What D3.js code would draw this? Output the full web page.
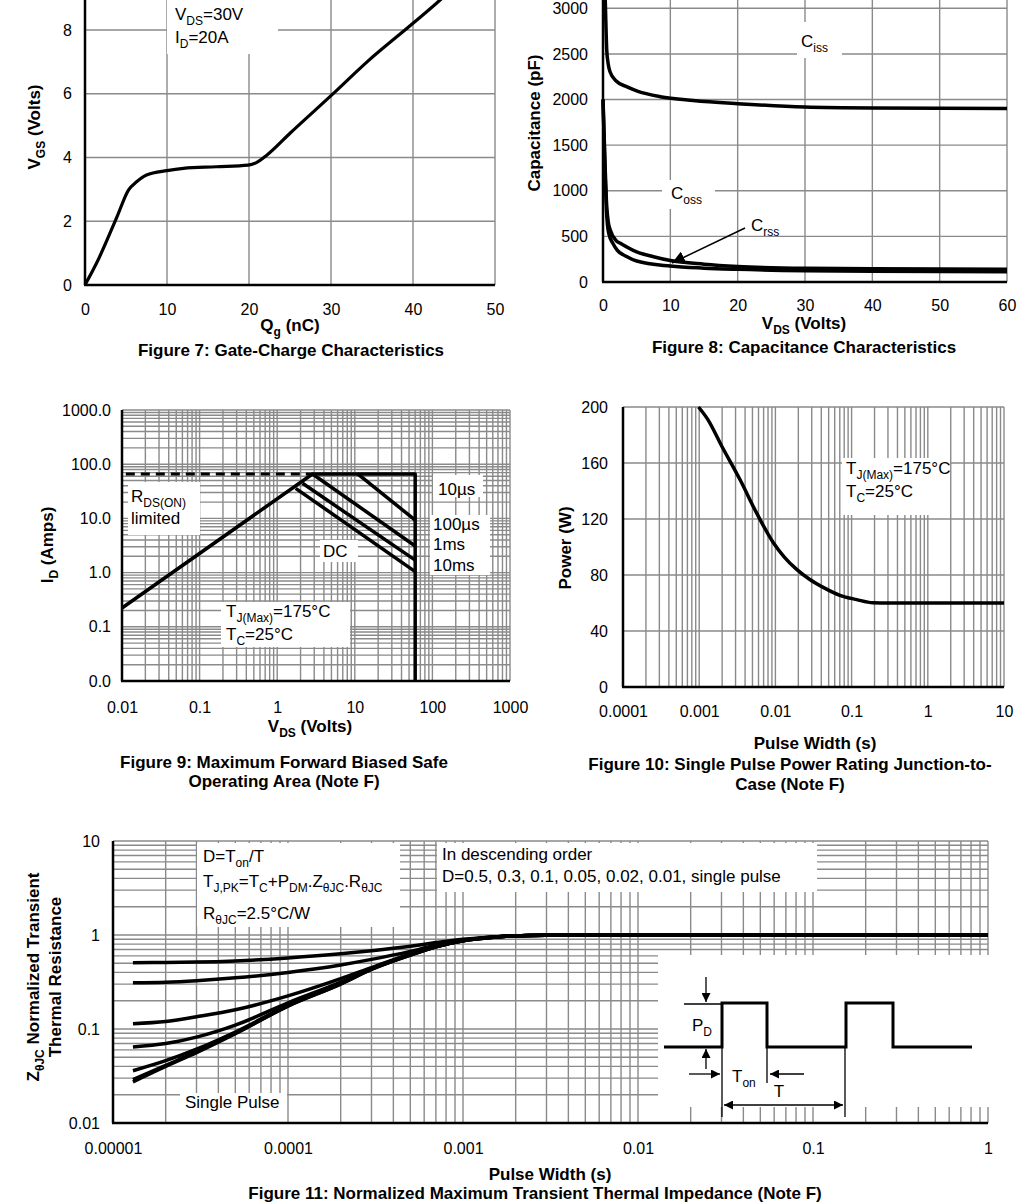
<!DOCTYPE html>
<html><head><meta charset="utf-8">
<script src="https://cdn.jsdelivr.net/npm/d3@7"></script>
<style>body{margin:0;background:#fff} text{font-family:"Liberation Sans",Arial,sans-serif;fill:#000}</style>
</head><body><svg id="c" width="1033" height="1202"></svg>
<script>
// ---------------- DATA ----------------
// Figure 7: gate charge
const gcQ = [0, 1.4, 3.9, 5.3, 6.3, 7.5, 10, 12, 16, 19.9, 20.9, 22.2, 25, 30.3, 34.4, 40, 43.3, 45];
const gcV = [0, 0.68, 2.14, 2.98, 3.24, 3.45, 3.59, 3.66, 3.71, 3.76, 3.84, 4.08, 4.76, 6.01, 7.0, 8.21, 8.94, 9.35];
const gcXTicks = [0, 10, 20, 30, 40, 50];
const gcYTicks = [0, 2, 4, 6, 8, 10];
// Figure 8: capacitance
const capV = [0.05, 0.35, 0.55, 0.75, 1.04, 2, 3.5, 5, 8.5, 13.4, 20, 30, 40, 60];
const cissPF = [3800, 3050, 2550, 2400, 2305, 2200, 2141, 2095, 2031, 1990, 1955, 1918, 1908, 1903];
const cossV = [0, 0.3, 0.5, 0.8, 1.08, 2, 2.57, 5, 7.5, 10, 15, 20, 30, 40, 60];
const cossPF = [2000, 1300, 900, 650, 570, 450, 424, 330, 277, 235, 195, 170, 150, 145, 140];
const crssV = [0, 0.3, 0.5, 0.84, 1.5, 2.1, 3.5, 5, 10, 15, 20, 30, 40, 60];
const crssPF = [2000, 1200, 800, 535, 420, 350, 280, 230, 175, 152, 139, 124, 118, 113];
const capXTicks = [0, 10, 20, 30, 40, 50, 60];
const capYTicks = [0, 500, 1000, 1500, 2000, 2500, 3000, 3500];
// Figure 9: SOA
const soaTicks = [0.01, 0.1, 1, 10, 100, 1000];
const soaLimitV = [0.0112, 2.85];           // RDS(ON) limited (dashed)
const soaLimitI = [66, 66];
const soaBoundV = [0.01, 2.85, 60, 60];      // outline
const soaBoundI = [0.222, 66, 66, 0.01];
const soa10usV = [10.9, 60],  soa10usI = [66, 9.3];
const soa100usV = [2.85, 60], soa100usI = [66, 3.1];
const soa1msV = [2.12, 60],   soa1msI = [44.4, 1.7];
const soaDCV = [1.73, 60],    soaDCI = [35.9, 1.04];
// Figure 10: single pulse power
const spT = [0.00098, 0.0013, 0.00198, 0.00344, 0.0057, 0.0094, 0.013, 0.019, 0.028, 0.043, 0.07, 0.117, 0.19, 0.3, 1, 10];
const spP = [200, 191, 172, 148, 124, 103, 93, 84, 77, 71, 65.5, 62.4, 60.2, 60, 60, 60];
const spXTicks = [0.0001, 0.001, 0.01, 0.1, 1, 10];
const spYTicks = [0, 40, 80, 120, 160, 200];
// Figure 11: transient thermal impedance
const ztT = [1.3e-5, 2e-5, 3e-5, 5e-5, 1e-4, 2e-4, 3e-4, 5e-4, 7e-4, 1e-3, 1.5e-3, 2e-3, 3e-3, 5e-3, 1e-2, 1e-1, 1];
const ztD05 = [0.508, 0.51, 0.515, 0.53, 0.57, 0.63, 0.68, 0.76, 0.83, 0.9, 0.955, 0.98, 0.995, 1, 1, 1, 1];
const ztD03 = [0.31, 0.315, 0.327, 0.35, 0.40, 0.48, 0.55, 0.67, 0.78, 0.88, 0.95, 0.98, 0.995, 1, 1, 1, 1];
const ztD01 = [0.114, 0.12, 0.135, 0.16, 0.225, 0.343, 0.45, 0.63, 0.76, 0.875, 0.95, 0.98, 0.995, 1, 1, 1, 1];
const ztD005 = [0.0645, 0.07, 0.082, 0.11, 0.19, 0.315, 0.44, 0.62, 0.755, 0.87, 0.948, 0.98, 0.995, 1, 1, 1, 1];
const ztD002 = [0.036, 0.046, 0.061, 0.093, 0.178, 0.305, 0.435, 0.615, 0.75, 0.87, 0.947, 0.98, 0.995, 1, 1, 1, 1];
const ztD001 = [0.029, 0.041, 0.057, 0.09, 0.176, 0.302, 0.432, 0.612, 0.75, 0.868, 0.946, 0.98, 0.995, 1, 1, 1, 1];
const ztSingle = [0.0274, 0.040, 0.056, 0.089, 0.175, 0.30, 0.43, 0.61, 0.75, 0.868, 0.946, 0.98, 0.995, 1, 1, 1, 1];
const ztXTicks = [0.00001, 0.0001, 0.001, 0.01, 0.1, 1];
const ztYTicks = [0.01, 0.1, 1, 10];

// ---------------- HELPERS ----------------
const GRID = '#8a8a8a';
const svg = d3.select('#c');
svg.append('rect').attr('width', 1033).attr('height', 1202).attr('fill', '#fff');
const defs = svg.append('defs');
function marker(id, size) {
  defs.append('marker').attr('id', id).attr('viewBox', '0 0 10 10').attr('refX', 10).attr('refY', 5)
    .attr('markerWidth', size).attr('markerHeight', size).attr('markerUnits', 'userSpaceOnUse')
    .attr('orient', 'auto-start-reverse')
    .append('path').attr('d', 'M0,0L10,5L0,10Z').attr('fill', '#000');
}
marker('arrS', 9); marker('arrB', 13);

function rtext(g, x, y, str, o = {}) {
  const size = o.size || 17, sub = o.sub || Math.round(size * 0.68), sh = o.sh || Math.round(size * 0.27);
  const t = g.append('text').attr('x', x).attr('y', y).attr('font-size', size)
    .attr('text-anchor', o.anchor || 'start');
  if (o.bold) t.attr('font-weight', 'bold');
  if (o.rotate) t.attr('transform', `rotate(${o.rotate},${x},${y})`);
  const parts = str.split(/(_\{[^}]*\})/).filter(s => s.length);
  let shifted = false;
  parts.forEach(p => {
    if (p.startsWith('_{')) {
      t.append('tspan').attr('font-size', sub).attr('dy', shifted ? 0 : sh).text(p.slice(2, -1)); shifted = true;
    } else {
      t.append('tspan').attr('dy', shifted ? -sh : 0).text(p); shifted = false;
    }
  });
  return t;
}
function logVals(a, b) {
  const out = [];
  for (let e = Math.floor(Math.log10(a)); e <= Math.ceil(Math.log10(b)); e++)
    for (let m = 1; m <= 9; m++) { const v = +(m * Math.pow(10, e)).toPrecision(6); if (v >= a * 0.9999 && v <= b * 1.0001) out.push(v); }
  return out;
}
function gridV(g, x, vals, y0, y1) {
  g.selectAll(null).data(vals).enter().append('line')
    .attr('x1', d => x(d)).attr('x2', d => x(d)).attr('y1', y0).attr('y2', y1)
    .attr('stroke', GRID).attr('stroke-width', 1.4);
}
function gridH(g, y, vals, x0, x1) {
  g.selectAll(null).data(vals).enter().append('line')
    .attr('y1', d => y(d)).attr('y2', d => y(d)).attr('x1', x0).attr('x2', x1)
    .attr('stroke', GRID).attr('stroke-width', 1.4);
}
function box(g, x, y, w, h) { g.append('rect').attr('x', x).attr('y', y).attr('width', w).attr('height', h).attr('fill', '#fff'); }
function frame(g, x, y) {
  const [x0, x1] = x.range(), [y0, y1] = y.range();
  g.append('line').attr('x1', x0).attr('x2', x0).attr('y1', y0).attr('y2', y1).attr('stroke', '#000').attr('stroke-width', 2.5);
  g.append('line').attr('x1', x0 - 1).attr('x2', x1).attr('y1', y0).attr('y2', y0).attr('stroke', '#000').attr('stroke-width', 2.5);
}
function tickAxes(g, x, y, xt, yt, xf, yf, padL, padB) {
  const ax = g.append('g').attr('transform', `translate(0,${y.range()[0]})`)
    .call(d3.axisBottom(x).tickValues(xt).tickFormat(xf).tickSize(0).tickPadding(padB));
  const ay = g.append('g').attr('transform', `translate(${x.range()[0]},0)`)
    .call(d3.axisLeft(y).tickValues(yt).tickFormat(yf).tickSize(0).tickPadding(padL));
  [ax, ay].forEach(a => { a.select('.domain').remove(); a.selectAll('text').attr('font-size', 16).attr('font-family', '"Liberation Sans",Arial,sans-serif').attr('fill', '#000'); });
}
function curve(g, x, y, xs, ys, w, cf, dash) {
  const line = d3.line().x(d => x(d[0])).y(d => y(d[1])).curve(cf || d3.curveLinear);
  const p = g.append('path').attr('d', line(d3.zip(xs, ys))).attr('fill', 'none').attr('stroke', '#000')
    .attr('stroke-width', w).attr('stroke-linejoin', 'round');
  if (dash) p.attr('stroke-dasharray', dash);
  return p;
}
const numFmt = d => String(d);

// ---------------- FIGURE 7 ----------------
{
  const g = svg.append('g');
  const x = d3.scaleLinear().domain([0, 50]).range([85, 495]);
  const y = d3.scaleLinear().domain([0, 10]).range([285, -33.75]);
  gridV(g, x, gcXTicks.slice(1), y(0), y(10));
  gridH(g, y, gcYTicks.slice(1), x(0), x(50));
  box(g, 167, -5, 111, 59);
  frame(g, x, y);
  curve(g, x, y, gcQ, gcV, 3.2, d3.curveMonotoneX);
  tickAxes(g, x, y, gcXTicks, gcYTicks.slice(0, 5), numFmt, numFmt, 13, 19);
  rtext(g, 175, 20, 'V_{DS}=30V');
  rtext(g, 175, 43, 'I_{D}=20A');
  rtext(g, 40, 127, 'V_{GS} (Volts)', { bold: true, anchor: 'middle', rotate: -90 });
  rtext(g, 290, 331, 'Q_{g} (nC)', { bold: true, anchor: 'middle' });
  rtext(g, 291, 356, 'Figure 7: Gate-Charge Characteristics', { bold: true, anchor: 'middle' });
}

// ---------------- FIGURE 8 ----------------
{
  const g = svg.append('g');
  const x = d3.scaleLinear().domain([0, 60]).range([603, 1007]);
  const y = d3.scaleLinear().domain([0, 3500]).range([282, 282 - 3500 * 0.09123]);
  gridV(g, x, capXTicks.slice(1), y(0), y(3500));
  gridH(g, y, capYTicks.slice(1), x(0), x(60));
  box(g, 797, 22, 45, 36);
  box(g, 662, 180, 53, 29);
  frame(g, x, y);
  curve(g, x, y, capV, cissPF, 3.5, d3.curveMonotoneX);
  curve(g, x, y, cossV, cossPF, 3.5, d3.curveMonotoneX);
  curve(g, x, y, crssV, crssPF, 3.5, d3.curveMonotoneX);
  tickAxes(g, x, y, capXTicks, capYTicks.slice(0, 7), numFmt, numFmt, 15, 18);
  rtext(g, 801, 47, 'C_{iss}');
  rtext(g, 671, 199, 'C_{oss}');
  rtext(g, 751, 231, 'C_{rss}');
  g.append('line').attr('x1', 745).attr('y1', 228).attr('x2', 672).attr('y2', 263)
    .attr('stroke', '#000').attr('stroke-width', 1.5).attr('marker-end', 'url(#arrB)');
  rtext(g, 540, 123, 'Capacitance (pF)', { bold: true, anchor: 'middle', rotate: -90 });
  rtext(g, 804, 329, 'V_{DS} (Volts)', { bold: true, anchor: 'middle' });
  rtext(g, 804, 353, 'Figure 8: Capacitance Characteristics', { bold: true, anchor: 'middle' });
}

// ---------------- FIGURE 9 ----------------
{
  const g = svg.append('g');
  const x = d3.scaleLog().domain([0.01, 1000]).range([122, 510]);
  const y = d3.scaleLog().domain([0.01, 1000]).range([681, 410]);
  gridV(g, x, logVals(0.01, 1000).slice(1), y(0.01), y(1000));
  gridH(g, y, logVals(0.01, 1000).slice(1), x(0.01), x(1000));
  box(g, 128, 482, 72, 53);
  box(g, 433, 475, 50, 22);
  box(g, 430, 515, 60, 60);
  box(g, 320, 540, 38, 22);
  box(g, 221, 602, 129, 45);
  frame(g, x, y);
  curve(g, x, y, soaLimitV, soaLimitI, 3, null, '9,6');
  curve(g, x, y, soaBoundV, soaBoundI, 3.5);
  curve(g, x, y, soa10usV, soa10usI, 3.5);
  curve(g, x, y, soa100usV, soa100usI, 3.5);
  curve(g, x, y, soa1msV, soa1msI, 3.5);
  curve(g, x, y, soaDCV, soaDCI, 3.5);
  tickAxes(g, x, y, soaTicks, soaTicks, d => d >= 1 ? d3.format('d')(d) : String(d), d3.format('.1f'), 11, 21);
  rtext(g, 131, 502, 'R_{DS(ON)}');
  rtext(g, 131, 524, 'limited');
  rtext(g, 438, 495, '10µs');
  rtext(g, 433, 530, '100µs');
  rtext(g, 433, 550, '1ms');
  rtext(g, 433, 571, '10ms');
  rtext(g, 323, 557, 'DC');
  rtext(g, 226, 617, 'T_{J(Max)}=175°C');
  rtext(g, 226, 640, 'T_{C}=25°C');
  rtext(g, 53, 545, 'I_{D} (Amps)', { bold: true, anchor: 'middle', rotate: -90 });
  rtext(g, 310, 732, 'V_{DS} (Volts)', { bold: true, anchor: 'middle' });
  rtext(g, 284, 768, 'Figure 9: Maximum Forward Biased Safe', { bold: true, anchor: 'middle' });
  rtext(g, 284, 787, 'Operating Area (Note F)', { bold: true, anchor: 'middle' });
}

// ---------------- FIGURE 10 ----------------
{
  const g = svg.append('g');
  const x = d3.scaleLog().domain([1e-4, 10]).range([623, 1004]);
  const y = d3.scaleLinear().domain([0, 200]).range([687, 407]);
  gridV(g, x, logVals(1e-4, 10).slice(1), y(0), y(200));
  gridH(g, y, spYTicks.slice(1), x(1e-4), x(10));
  box(g, 842, 458, 108, 57);
  frame(g, x, y);
  curve(g, x, y, spT, spP, 3.5, d3.curveMonotoneX);
  tickAxes(g, x, y, spXTicks, spYTicks, numFmt, numFmt, 15, 19);
  rtext(g, 846, 474, 'T_{J(Max)}=175°C');
  rtext(g, 846, 497, 'T_{C}=25°C');
  rtext(g, 571, 548, 'Power (W)', { bold: true, anchor: 'middle', rotate: -90 });
  rtext(g, 815, 749, 'Pulse Width (s)', { bold: true, anchor: 'middle' });
  rtext(g, 790, 770, 'Figure 10: Single Pulse Power Rating Junction-to-', { bold: true, anchor: 'middle' });
  rtext(g, 790, 790, 'Case (Note F)', { bold: true, anchor: 'middle' });
}

// ---------------- FIGURE 11 ----------------
{
  const g = svg.append('g');
  const x = d3.scaleLog().domain([1e-5, 1]).range([113, 988]);
  const y = d3.scaleLog().domain([0.01, 10]).range([1123, 841]);
  gridV(g, x, logVals(1e-5, 1).slice(1), y(0.01), y(10));
  gridH(g, y, logVals(0.01, 10).slice(1), x(1e-5), x(1));
  box(g, 197, 843, 203, 84);
  box(g, 437, 843, 380, 49);
  box(g, 180, 1093, 107, 29);
  box(g, 658, 955, 332, 152);
  frame(g, x, y);
  [ztD05, ztD03, ztD01, ztD005, ztD002, ztD001, ztSingle].forEach(s => curve(g, x, y, ztT, s, 3.5, d3.curveMonotoneX));
  tickAxes(g, x, y, ztXTicks, ztYTicks, numFmt, numFmt, 13, 20);
  rtext(g, 203, 862, 'D=T_{on}/T');
  rtext(g, 203, 887, 'T_{J,PK}=T_{C}+P_{DM}.Z_{θJC}.R_{θJC}');
  rtext(g, 203, 919, 'R_{θJC}=2.5°C/W');
  rtext(g, 442, 860, 'In descending order');
  rtext(g, 442, 882, 'D=0.5, 0.3, 0.1, 0.05, 0.02, 0.01, single pulse');
  rtext(g, 185, 1108, 'Single Pulse');
  rtext(g, 39, 977, 'Z_{θJC} Normalized Transient', { bold: true, anchor: 'middle', rotate: -90 });
  rtext(g, 61, 977, 'Thermal Resistance', { bold: true, anchor: 'middle', rotate: -90 });
  rtext(g, 550, 1180, 'Pulse Width (s)', { bold: true, anchor: 'middle' });
  rtext(g, 535, 1199, 'Figure 11: Normalized Maximum Transient Thermal Impedance (Note F)', { bold: true, anchor: 'middle' });
  // pulse train inset diagram
  const d = g.append('g');
  const thick = [[664, 1047], [722, 1047], [722, 1003], [767, 1003], [767, 1047], [846, 1047], [846, 1003], [893, 1003], [893, 1047], [972, 1047]];
  d.append('path').attr('d', d3.line()(thick)).attr('fill', 'none').attr('stroke', '#000').attr('stroke-width', 3).attr('stroke-linejoin', 'miter');
  const thin = (x1, y1, x2, y2, m1, m2) => {
    const l = d.append('line').attr('x1', x1).attr('y1', y1).attr('x2', x2).attr('y2', y2).attr('stroke', '#000').attr('stroke-width', 1.3);
    if (m2) l.attr('marker-end', 'url(#arrS)');
    if (m1) l.attr('marker-start', 'url(#arrS)');
  };
  thin(684, 1004, 722, 1004);
  thin(706, 977, 706, 1002, false, true);
  thin(706, 1069, 706, 1049, false, true);
  thin(722, 1047, 722, 1117);
  thin(767, 1047, 767, 1083);
  thin(845, 1047, 845, 1117);
  thin(689, 1074, 720, 1074, false, true);
  thin(804, 1074, 770, 1074, false, true);
  thin(724, 1105, 843, 1105, true, true);
  rtext(d, 692, 1031, 'P_{D}');
  rtext(d, 732, 1082, 'T_{on}');
  rtext(d, 779, 1097, 'T', { anchor: 'middle' });
}
</script></body></html>
